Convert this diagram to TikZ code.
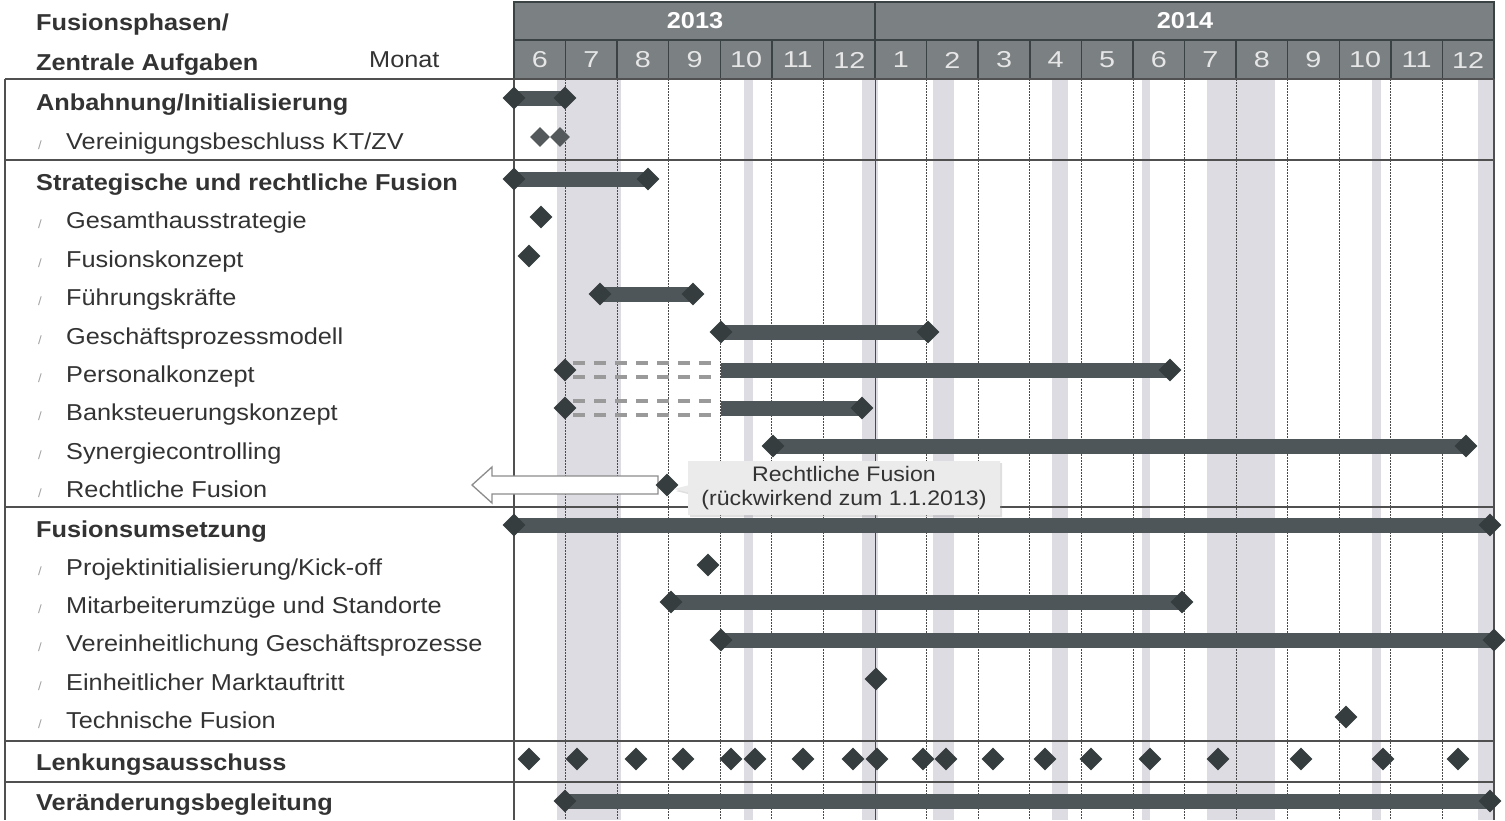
\documentclass[tikz,border=0pt]{standalone}
\usepackage{fontspec}
\setmainfont[FakeStretch=1.1]{Liberation Sans}
\newfontfamily\monthfont[FakeStretch=1.25]{Liberation Sans}
\usetikzlibrary{shapes.geometric,shapes.callouts,shadows}
\definecolor{hdr}{HTML}{7B8083}
\definecolor{hdrline}{HTML}{3B4244}
\definecolor{montxt}{HTML}{E6E6E6}
\definecolor{txt}{HTML}{333333}
\definecolor{slc}{HTML}{A0A0A0}
\definecolor{dia}{HTML}{363D3F}
\definecolor{barc}{HTML}{4E5659}
\definecolor{stripe}{HTML}{DCDCE2}
\definecolor{grd}{HTML}{4A4A4A}
\definecolor{rul}{HTML}{505050}
\definecolor{dsh}{HTML}{9A9A9A}
\definecolor{callfill}{HTML}{EBEBEB}
\definecolor{arrline}{HTML}{8C8C8C}
\pgfdeclarelayer{back}
\pgfdeclarelayer{bars}
\pgfsetlayers{back,bars,main}
\begin{document}
\begin{tikzpicture}[x=1pt,y=-1pt,
  lblb/.style={anchor=base west, inner sep=0pt, text=txt, font=\fontsize{23}{26}\selectfont\bfseries},
  lbl/.style={anchor=base west, inner sep=0pt, text=txt, font=\fontsize{23}{26}\selectfont},
  slashmark/.style={anchor=base west, inner sep=0pt, text=slc, font=\fontsize{12}{14}\selectfont},
  ms/.style={diamond, fill=dia, draw=none, minimum width=23pt, minimum height=23pt, inner sep=0pt},
  mss/.style={ms, minimum width=20pt, minimum height=20pt, fill=dia!85!white},
  bar/.style={draw=barc, line width=15pt},
  ghost/.style={draw=dsh, line width=3.5pt, dash pattern=on 12pt off 9pt},
  gridl/.style={draw=grd, line width=0.9pt, dash pattern=on 1.5pt off 1.5pt},
  rule/.style={draw=rul, line width=1.3pt},
  hline/.style={draw=hdrline, line width=1.5pt},
  yr/.style={text=white, font=\fontsize{23}{26}\selectfont\bfseries, inner sep=0pt},
  mon/.style={text=montxt, font=\fontsize{23}{26}\monthfont, inner sep=0pt},
  calloutbox/.style={rectangle callout, fill=callfill, draw=none, align=center, text=txt,
    font=\fontsize{21}{24}\selectfont, minimum width=312pt, minimum height=54pt, inner sep=2pt,
    drop shadow={opacity=0.25, shadow xshift=2pt, shadow yshift=-2pt}},
]
\useasboundingbox (0,0) rectangle (1505,820);

% ---------- background: stripes and grid ----------
\begin{pgfonlayer}{back}
  \fill[white] (0,0) rectangle (1505,820);
  \foreach \a/\b in {557/621,744/753,862/878,933/954,1052/1068,1142/1150,1207/1275,1372/1381,1478/1493}
    \fill[stripe] (\a,79) rectangle (\b,820);
  \foreach \k in {1,...,6,8,9,...,18}
    \draw[gridl] ({514+\k*51.579},79) -- ({514+\k*51.579},820);
  \draw[draw=grd, line width=1.1pt] ({514+7*51.579},79) -- ({514+7*51.579},820);
\end{pgfonlayer}

% ---------- header ----------
\fill[hdr] (514,2) rectangle (1494,79);
\draw[hline] (514,2) rectangle (1494,79);
\draw[hline] (514,40) -- (1494,40);
\foreach \k in {1,...,18}
  \draw[hline] ({514+\k*51.579},40) -- ({514+\k*51.579},79);
\draw[hline] ({514+7*51.579},2) -- ({514+7*51.579},40);
\node[yr] (y13) at (695,21) {2013};
\node[yr] (y14) at (1185,21) {2014};
\foreach \m [count=\i from 0] in {6,7,8,9,10,11,12,1,2,3,4,5,6,7,8,9,10,11,12}
  \node[mon] (m\i) at ({514+(\i+0.5)*51.579},60) {\m};

% ---------- table rules ----------
\draw[rule] (5,79) -- (1494,79);
\foreach \yy in {160,507,741,782}
  \draw[rule] (5,\yy) -- (1494,\yy);
\draw[rule] (5,79) -- (5,820);
\draw[rule] (514,79) -- (514,820);
\draw[rule] (1494,79) -- (1494,820);

% ---------- left column texts ----------
\node[lblb] (h1) at (36,30) {Fusionsphasen/};
\node[lblb] (h2) at (36,70) {Zentrale Aufgaben};
\node[lbl]  (h3) at (369,67) {Monat};

\node[lblb] (t1) at (36,110) {Anbahnung/Initialisierung};
\node[slashmark] (s2) at (38,149) {/};
\node[lbl]  (t2) at (66,149) {Vereinigungsbeschluss KT/ZV};
\node[lblb] (t3) at (36,190.5) {Strategische und rechtliche Fusion};
\node[slashmark] (s4) at (38,228) {/};
\node[lbl]  (t4) at (66,228) {Gesamthausstrategie};
\node[slashmark] (s5) at (38,267) {/};
\node[lbl]  (t5) at (66,267) {Fusionskonzept};
\node[slashmark] (s6) at (38,305.5) {/};
\node[lbl]  (t6) at (66,305.5) {Führungskräfte};
\node[slashmark] (s7) at (38,344) {/};
\node[lbl]  (t7) at (66,344) {Geschäftsprozessmodell};
\node[slashmark] (s8) at (38,382.5) {/};
\node[lbl]  (t8) at (66,382.5) {Personalkonzept};
\node[slashmark] (s9) at (38,420.5) {/};
\node[lbl]  (t9) at (66,420.5) {Banksteuerungskonzept};
\node[slashmark] (s10) at (38,459) {/};
\node[lbl]  (t10) at (66,459) {Synergiecontrolling};
\node[slashmark] (s11) at (38,497) {/};
\node[lbl]  (t11) at (66,497) {Rechtliche Fusion};
\node[lblb] (t12) at (36,537) {Fusionsumsetzung};
\node[slashmark] (s13) at (38,575) {/};
\node[lbl]  (t13) at (66,575) {Projektinitialisierung/Kick-off};
\node[slashmark] (s14) at (38,613.5) {/};
\node[lbl]  (t14) at (66,613.5) {Mitarbeiterumzüge und Standorte};
\node[slashmark] (s15) at (38,651.5) {/};
\node[lbl]  (t15) at (66,651.5) {Vereinheitlichung Geschäftsprozesse};
\node[slashmark] (s16) at (38,690) {/};
\node[lbl]  (t16) at (66,690) {Einheitlicher Marktauftritt};
\node[slashmark] (s17) at (38,728.5) {/};
\node[lbl]  (t17) at (66,728.5) {Technische Fusion};
\node[lblb] (t18) at (36,770) {Lenkungsausschuss};
\node[lblb] (t19) at (36,810) {Veränderungsbegleitung};

% ---------- milestones ----------
\node[ms] (a1) at (514,98) {};
\node[ms] (a2) at (565,98) {};
\node[mss] (v1) at (540,137) {};
\node[mss] (v2) at (560,137) {};
\node[ms] (st1) at (514,179) {};
\node[ms] (st2) at (648,179) {};
\node[ms] (gs) at (541,217) {};
\node[ms] (fk) at (529,256) {};
\node[ms] (fu1) at (600,294) {};
\node[ms] (fu2) at (693,294) {};
\node[ms] (gp1) at (721,332) {};
\node[ms] (gp2) at (928,332) {};
\node[ms] (pk1) at (565,370) {};
\coordinate (pk0) at (721,370);
\node[ms] (pk2) at (1170,370) {};
\node[ms] (bk1) at (565,408) {};
\coordinate (bk0) at (721,408);
\node[ms] (bk2) at (862,408) {};
\node[ms] (sy1) at (773,446) {};
\node[ms] (sy2) at (1466,446) {};
\node[ms] (fs1) at (514,525) {};
\node[ms] (fs2) at (1490,525) {};
\node[ms] (pi) at (708,565) {};
\node[ms] (mu1) at (671,602) {};
\node[ms] (mu2) at (1182,602) {};
\node[ms] (vg1) at (721,640) {};
\node[ms] (vg2) at (1494,640) {};
\node[ms] (em) at (876,679) {};
\node[ms] (tf) at (1346,717) {};
\foreach \xx [count=\i] in {529,577,636,683,731,755,803,853,877,923,946,993,1045,1091,1150,1218,1301,1383,1458}
  \node[ms] (l\i) at (\xx,759) {};
\node[ms] (vb1) at (565,801) {};
\node[ms] (vb2) at (1490,801) {};

% ---------- bars ----------
\begin{pgfonlayer}{bars}
  \draw[bar] (a1.center) -- (a2.center);
  \draw[bar] (st1.center) -- (st2.center);
  \draw[bar] (fu1.center) -- (fu2.center);
  \draw[bar] (gp1.center) -- (gp2.center);
  \draw[bar] (pk0) -- (pk2.center);
  \draw[bar] (bk0) -- (bk2.center);
  \draw[bar] (sy1.center) -- (sy2.center);
  \draw[bar] (fs1.center) -- (fs2.center);
  \draw[bar] (mu1.center) -- (mu2.center);
  \draw[bar] (vg1.center) -- (vg2.center);
  \draw[bar] (vb1.center) -- (vb2.center);
  % dashed (planned) parts
  \draw[ghost] ([xshift=8pt,yshift=7pt]pk1.center) -- ([xshift=-5pt,yshift=7pt]pk0);
  \draw[ghost] ([xshift=8pt,yshift=-7pt]pk1.center) -- ([xshift=-5pt,yshift=-7pt]pk0);
  \draw[ghost] ([xshift=8pt,yshift=7pt]bk1.center) -- ([xshift=-5pt,yshift=7pt]bk0);
  \draw[ghost] ([xshift=8pt,yshift=-7pt]bk1.center) -- ([xshift=-5pt,yshift=-7pt]bk0);
\end{pgfonlayer}

% ---------- hollow arrow (retroactive) ----------
\draw[fill=white, draw=arrline, line width=1.3pt]
  (658,476) -- (492,476) -- (492,467) -- (472,485) -- (492,503) -- (492,494) -- (658,494) -- cycle;
\node[ms] (rf) at (667,485) {};

% ---------- callout ----------
\node[calloutbox, callout absolute pointer={(674,489)}] (cb) at (844,488)
  {Rechtliche Fusion\\(rückwirkend zum 1.1.2013)};
\end{tikzpicture}
\end{document}
